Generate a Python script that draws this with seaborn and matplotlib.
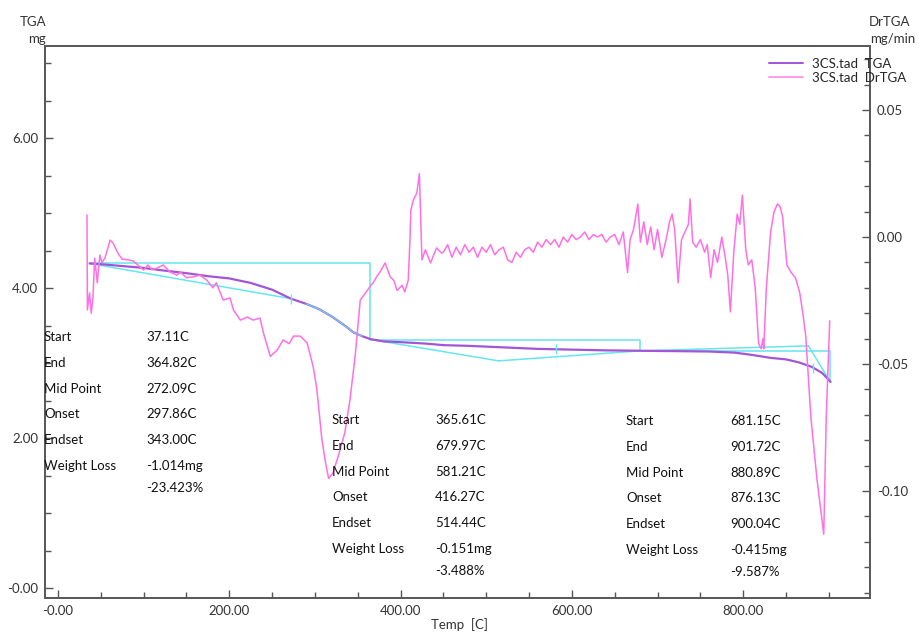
import seaborn as sns
import matplotlib.pyplot as plt
import pandas as pd
from matplotlib.ticker import MultipleLocator, FuncFormatter
from matplotlib.lines import Line2D

# TGA curve (mg)
tga_temp = [37, 50, 70, 100, 120, 150, 175, 200, 225, 250, 272, 290, 305, 320, 335,
            345, 355, 365, 380, 400, 415, 430, 450, 480, 520, 560, 600, 640, 680, 720,
            760, 790, 810, 832, 850, 865, 880, 892, 902]
tga_mass = [4.33, 4.32, 4.30, 4.27, 4.24, 4.20, 4.16, 4.13, 4.07, 3.98, 3.86, 3.79, 3.72, 3.62, 3.50,
            3.41, 3.36, 3.32, 3.29, 3.28, 3.27, 3.26, 3.24, 3.23, 3.21, 3.19, 3.18, 3.17, 3.165, 3.16,
            3.155, 3.14, 3.11, 3.07, 3.05, 3.01, 2.95, 2.87, 2.75]

# DrTGA curve (mg/min)
dtg_temp = [34, 34.5, 37, 39, 41, 43, 46, 49, 51.5, 55, 61, 64.5, 70, 75, 82, 88, 96, 100, 105, 110,
            116, 123, 131, 139, 143, 150, 158, 166, 174, 181, 185, 193, 201, 205, 213, 221, 228, 236, 240, 248,
            256, 263, 270, 275, 283, 291, 294, 298, 302, 308, 312, 316, 321, 327, 335, 341, 347, 353, 359, 364,
            368, 372, 376, 382, 385, 388, 392, 396, 402, 405, 409, 411, 412, 415, 419, 422, 425, 429, 435, 442,
            448, 450, 455, 460, 465, 470, 475, 480, 485, 490, 495, 500, 505, 510, 515, 520, 525, 530, 535, 540,
            545, 550, 555, 560, 565, 570, 575, 580, 585, 590, 595, 600, 605, 610, 615, 620, 625, 630, 635, 640,
            645, 650, 655, 660, 665, 668, 672, 677, 680, 684, 688, 692, 696, 700, 705, 710, 714, 717, 720, 724,
            728, 732, 736, 738, 741, 745, 750, 755, 758, 762, 766, 770, 775, 779, 782, 785, 789, 793, 796, 799,
            803, 806, 810, 814, 818, 821, 823, 824, 827, 832, 836, 840, 843, 846, 851, 856, 861, 866, 870, 873,
            879, 886, 894, 897, 901]
dtg_rate = [0.0087, -0.0287, -0.022, -0.030, -0.0236, -0.0083, -0.018, -0.0071, -0.010, -0.0083,
            -0.0012, -0.0024, -0.0063, -0.0087, -0.0090, -0.0094, -0.0118, -0.013, -0.011, -0.0128,
            -0.0122, -0.011, -0.0138, -0.015, -0.0138, -0.0160, -0.0157, -0.0150, -0.017, -0.020,
            -0.018, -0.0248, -0.024, -0.0287, -0.0327, -0.0315, -0.0327, -0.0319, -0.0378, -0.047,
            -0.0445, -0.0405, -0.0420, -0.039, -0.039, -0.0417, -0.0457, -0.051, -0.059, -0.079,
            -0.088, -0.095, -0.093, -0.0866, -0.077, -0.064, -0.047, -0.0248, -0.022, -0.0197,
            -0.0180, -0.0157, -0.0138, -0.0102, -0.0130, -0.0157, -0.0170, -0.021, -0.019, -0.0216,
            -0.017, -0.001, 0.0106, 0.0146, 0.0173, 0.025, -0.009, -0.005, -0.0102, -0.0043,
            -0.0063, -0.006, -0.003, -0.008, -0.004, -0.007, -0.003, -0.006, -0.004, -0.008,
            -0.004, -0.006, -0.003, -0.007, -0.005, -0.004, -0.009, -0.010, -0.006, -0.008,
            -0.005, -0.004, -0.006, -0.002, -0.004, -0.001, -0.003, -0.001, -0.004, 0.000,
            -0.002, 0.001, -0.001, 0.000, 0.002, -0.001, 0.001, 0.000, 0.001, -0.002,
            0.000, 0.001, -0.003, 0.002, -0.014, -0.001, 0.003, 0.013, -0.002, 0.006,
            -0.003, 0.004, -0.005, 0.003, -0.008, -0.001, 0.006, 0.009, 0.003, -0.018,
            -0.001, 0.002, 0.005, 0.015, -0.002, -0.004, -0.001, -0.006, -0.003, -0.016,
            -0.005, -0.010, 0.000, -0.008, -0.015, -0.0295, -0.006, 0.009, 0.005, 0.0165,
            -0.005, -0.011, -0.009, -0.020, -0.042, -0.044, -0.040, -0.044, -0.020, 0.002,
            0.010, 0.013, 0.012, 0.008, -0.011, -0.014, -0.016, -0.022, -0.031, -0.039,
            -0.071, -0.095, -0.117, -0.070, -0.033]

# analysis steps
step_start = [37.11, 365.61, 681.15]
step_end = [364.82, 679.97, 901.72]
step_mid = [272.09, 581.21, 880.89]
step_onset = [297.86, 416.27, 876.13]
step_endset = [343.00, 514.44, 900.04]
loss_mg = [-1.014, -0.151, -0.415]
loss_pct = [-23.423, -3.488, -9.587]
mass_start = [4.329, 3.315, 3.164]
mass_end = [3.315, 3.164, 2.749]
knee_temp = [272.09, 514.44, 876.13]
knee_mass = [3.86, 3.03, 3.23]
mid_mass = [3.86, 3.19, 2.93]

tga = pd.DataFrame({"temp": tga_temp, "mass": tga_mass})
dtg = pd.DataFrame({"temp": dtg_temp, "rate": dtg_rate})

sns.set_style("ticks")
plt.rcParams["font.family"] = ["Lato", "DejaVu Sans"]

W, H = 920, 635
fig = plt.figure(figsize=(9.2, 6.35), dpi=100)
ax = fig.add_axes([45 / W, 1 - 598 / H, (870 - 45) / W, (598 - 46) / H])
ax2 = ax.twinx()

purple = "#a455d6"
pink = "#ff70e4"
cyan = "#66e6ee"

# analysis lines
for i in range(3):
    ax.plot([step_start[i], step_end[i], step_end[i]],
            [mass_start[i], mass_start[i], mass_end[i]], color=cyan, lw=1.1, zorder=2)
    ax.plot([step_start[i], knee_temp[i]], [mass_start[i], knee_mass[i]], color=cyan, lw=1.1, zorder=2)
    if i > 0:
        ax.plot([knee_temp[i], step_end[i]], [knee_mass[i], mass_end[i]], color=cyan, lw=1.1, zorder=2)
    ax.plot([step_mid[i]], [mid_mass[i]], marker="|", ms=7, color=cyan, zorder=4)

sns.lineplot(data=tga, x="temp", y="mass", ax=ax, color=purple, lw=1.6, estimator=None, sort=False, zorder=3)
sub = tga[(tga.temp >= knee_temp[0]) & (tga.temp <= step_end[0])]
ax.plot(sub.temp, sub.mass, color=cyan, lw=1.0, alpha=0.8, zorder=4)

sns.lineplot(data=dtg, x="temp", y="rate", ax=ax2, color=pink, lw=1.1, estimator=None, sort=False, zorder=3)

ax.set_xlim(-15, 948)
ax.set_ylim(-0.133, 7.23)
ax2.set_ylim(-0.1421, 0.0752)

fmt_neg0 = FuncFormatter(lambda v, p: "-0.00" if abs(v) < 1e-9 else f"{v:.2f}")
ax.xaxis.set_major_locator(MultipleLocator(200))
ax.xaxis.set_minor_locator(MultipleLocator(50))
ax.xaxis.set_major_formatter(fmt_neg0)
ax.yaxis.set_major_locator(MultipleLocator(2))
ax.yaxis.set_minor_locator(MultipleLocator(0.5))
ax.yaxis.set_major_formatter(fmt_neg0)
ax2.yaxis.set_major_locator(MultipleLocator(0.05))
ax2.yaxis.set_minor_locator(MultipleLocator(0.01))
ax2.yaxis.set_major_formatter(FuncFormatter(lambda v, p: f"{v:.2f}"))

for a in (ax, ax2):
    a.tick_params(which="major", direction="in", length=6, width=1, color="#555555",
                  labelsize=9.5, labelcolor="#333333", pad=5)
    a.tick_params(which="minor", direction="in", length=4, width=1, color="#555555")
    a.set_xlabel("")
    a.set_ylabel("")
    for s in a.spines.values():
        s.set_visible(True)
        s.set_color("#5a5a5a")
        s.set_linewidth(1.4)

# axis titles
fig.text(33 / W, 1 - 22 / H, "TGA", ha="center", va="center", fontsize=9.5, color="#333333")
fig.text(37 / W, 1 - 39 / H, "mg", ha="center", va="center", fontsize=9.5, color="#333333")
fig.text(890 / W, 1 - 22 / H, "DrTGA", ha="center", va="center", fontsize=9.5, color="#333333")
fig.text(893 / W, 1 - 39 / H, "mg/min", ha="center", va="center", fontsize=9.5, color="#333333")
fig.text(460 / W, 1 - 625 / H, "Temp  [C]", ha="center", va="center", fontsize=9.5, color="#333333")

# legend
handles = [Line2D([], [], color=purple, lw=1.4), Line2D([], [], color="#ff9cf0", lw=1.4)]
ax2.legend(handles, ["3CS.tad  TGA", "3CS.tad  DrTGA"], loc="upper left",
           bbox_to_anchor=(762 / W, 1 - 51 / H), bbox_transform=fig.transFigure,
           frameon=False, fontsize=9.5, handlelength=2.6, labelspacing=0.15,
           handletextpad=0.7, borderpad=0)

# result tables
block_x = [(44, 146), (332, 435), (626, 730)]
block_y = [337, 420, 421]
names = ["Start", "End", "Mid Point", "Onset", "Endset", "Weight Loss"]
for i in range(3):
    vals = [f"{step_start[i]:.2f}C", f"{step_end[i]:.2f}C", f"{step_mid[i]:.2f}C",
            f"{step_onset[i]:.2f}C", f"{step_endset[i]:.2f}C", f"{loss_mg[i]:.3f}mg"]
    lx, vx = block_x[i]
    for j in range(6):
        y = block_y[i] + j * 25.8
        fig.text(lx / W, 1 - y / H, names[j], ha="left", va="center", fontsize=9.5, color="#111111")
        fig.text(vx / W, 1 - y / H, vals[j], ha="left", va="center", fontsize=9.5, color="#111111")
    y = block_y[i] + 5 * 25.8 + 22
    fig.text(vx / W, 1 - y / H, f"{loss_pct[i]:.3f}%", ha="left", va="center", fontsize=9.5, color="#111111")

fig.savefig("out.png", dpi=100)
